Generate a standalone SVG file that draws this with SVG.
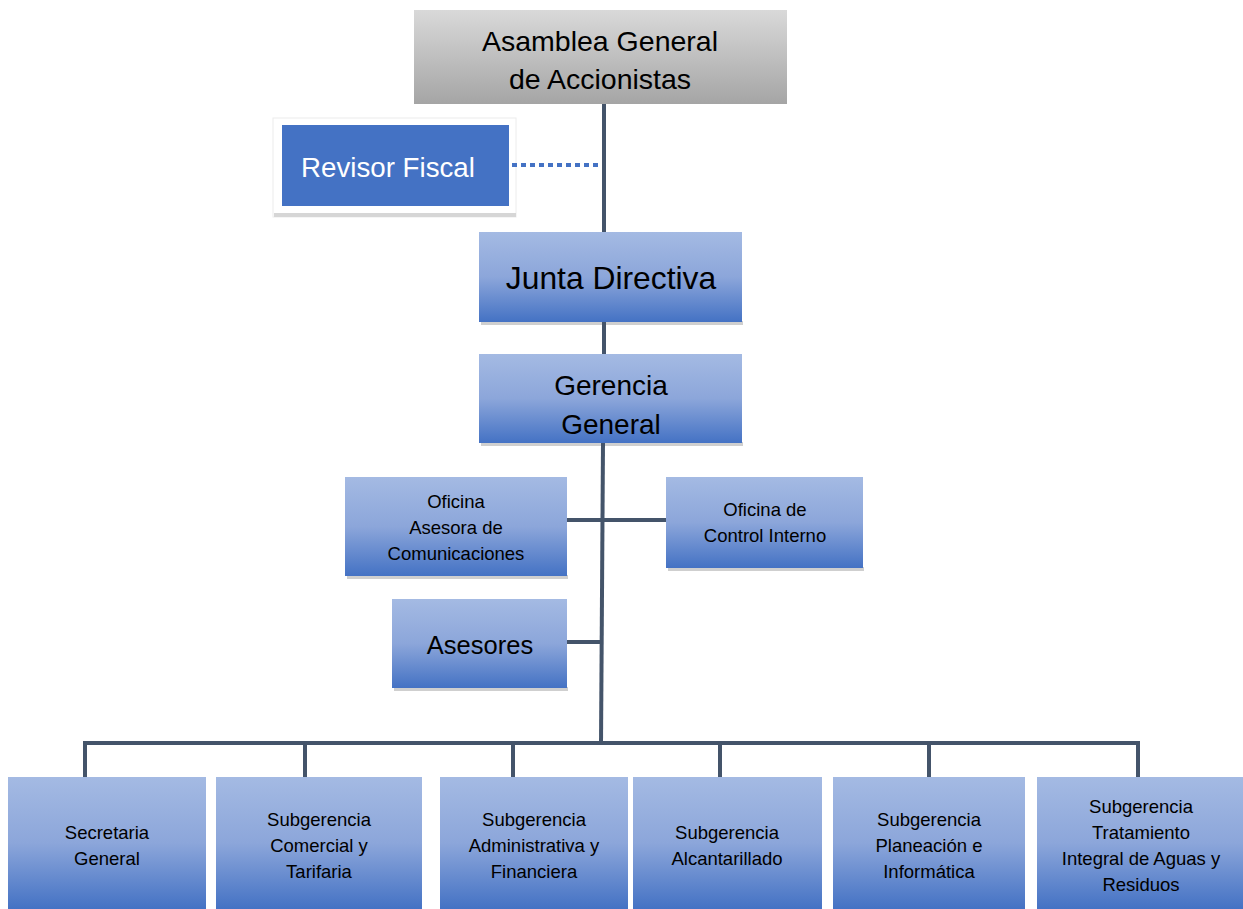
<svg xmlns="http://www.w3.org/2000/svg" width="1243" height="909" viewBox="0 0 1243 909">
<defs>
<linearGradient id="gray" x1="0" y1="0" x2="0" y2="1">
<stop offset="0" stop-color="#d9d9d9"/>
<stop offset="1" stop-color="#a5a5a5"/>
</linearGradient>
<linearGradient id="blue" x1="0" y1="0" x2="0" y2="1">
<stop offset="0" stop-color="#a4bae3"/>
<stop offset="0.5" stop-color="#8ca6da"/>
<stop offset="1" stop-color="#4472c4"/>
</linearGradient>
<style>
.box{fill:url(#blue);}
.shadow{fill:#cfcfcf;}
.conn{stroke:#44546a;stroke-width:4;fill:none;stroke-linecap:butt;}
.t{font-family:"Liberation Sans",Arial,sans-serif;fill:#000;text-anchor:middle;}
.s{font-size:18.5px;}
.l{font-size:28px;}
</style>
</defs>
<rect width="1243" height="909" fill="#ffffff"/>
<g id="asamblea">
<rect x="414" y="10" width="373" height="94" fill="url(#gray)"/>
<text class="t" x="600" y="51" font-size="28.5">Asamblea General</text>
<text class="t" x="600" y="89" font-size="28.5">de Accionistas</text>
</g>
<g id="revisor">
<rect x="273" y="118" width="243" height="99" fill="#ffffff" stroke="#ececec" stroke-width="1"/>
<rect x="274" y="213" width="242" height="4" fill="#d6d6d6"/>
<rect x="282" y="125" width="227" height="81" fill="#4472c4"/>
<text class="t" x="388" y="177" font-size="27.7" style="fill:#ffffff">Revisor Fiscal</text>
</g>
<g id="junta">
<rect class="shadow" x="481" y="321" width="262" height="4"/>
<rect class="box" x="479" y="232" width="263" height="90"/>
<text class="t" x="611" y="289" font-size="31.8">Junta Directiva</text>
</g>
<g id="gerencia">
<rect class="shadow" x="481" y="442" width="262" height="4"/>
<rect class="box" x="479" y="354" width="263" height="89"/>
<text class="t l" x="611" y="395">Gerencia</text>
<text class="t l" x="611" y="434">General</text>
</g>
<g id="comunicaciones">
<rect class="shadow" x="347" y="575" width="221" height="4"/>
<rect class="box" x="345" y="477" width="222" height="99"/>
<text class="t s" x="456" y="508">Oficina</text>
<text class="t s" x="456" y="534">Asesora de</text>
<text class="t s" x="456" y="560">Comunicaciones</text>
</g>
<g id="control">
<rect class="shadow" x="668" y="567" width="196" height="4"/>
<rect class="box" x="666" y="477" width="197" height="91"/>
<text class="t s" x="765" y="516">Oficina de</text>
<text class="t s" x="765" y="542">Control Interno</text>
</g>
<g id="asesores">
<rect class="shadow" x="394" y="687" width="174" height="4"/>
<rect class="box" x="392" y="599" width="175" height="89"/>
<text class="t" x="480" y="654" font-size="25.5">Asesores</text>
</g>
<g id="secretaria">
<rect class="box" x="8" y="777" width="198" height="132"/>
<text class="t s" x="107" y="839">Secretaria</text>
<text class="t s" x="107" y="865">General</text>
</g>
<g id="comercial">
<rect class="box" x="216" y="777" width="206" height="132"/>
<text class="t s" x="319" y="826">Subgerencia</text>
<text class="t s" x="319" y="852">Comercial y</text>
<text class="t s" x="319" y="878">Tarifaria</text>
</g>
<g id="administrativa">
<rect class="box" x="440" y="777" width="188" height="132"/>
<text class="t s" x="534" y="826">Subgerencia</text>
<text class="t s" x="534" y="852">Administrativa y</text>
<text class="t s" x="534" y="878">Financiera</text>
</g>
<g id="alcantarillado">
<rect class="box" x="633" y="777" width="189" height="132"/>
<text class="t s" x="727" y="839">Subgerencia</text>
<text class="t s" x="727" y="865">Alcantarillado</text>
</g>
<g id="planeacion">
<rect class="box" x="833" y="777" width="192" height="132"/>
<text class="t s" x="929" y="826">Subgerencia</text>
<text class="t s" x="929" y="852">Planeación e</text>
<text class="t s" x="929" y="878">Informática</text>
</g>
<g id="tratamiento">
<rect class="box" x="1037" y="777" width="206" height="132"/>
<text class="t s" x="1141" y="813">Subgerencia</text>
<text class="t s" x="1141" y="839">Tratamiento</text>
<text class="t s" x="1141" y="865">Integral de Aguas y</text>
<text class="t s" x="1141" y="891">Residuos</text>
</g>
<g id="connectors">
<line class="conn" x1="604" y1="104" x2="604" y2="232"/>
<line x1="512" y1="165" x2="600" y2="165" stroke="#4472c4" stroke-width="4" stroke-dasharray="5 4"/>
<line class="conn" x1="604" y1="322" x2="604" y2="354"/>
<line class="conn" x1="603" y1="443" x2="601" y2="745"/>
<line class="conn" x1="567" y1="520" x2="666" y2="520"/>
<line class="conn" x1="567" y1="642" x2="602" y2="642"/>
<polyline class="conn" points="85,777 85,743 1138,743 1138,777"/>
<line class="conn" x1="305" y1="743" x2="305" y2="777"/>
<line class="conn" x1="513" y1="743" x2="513" y2="777"/>
<line class="conn" x1="720" y1="743" x2="720" y2="777"/>
<line class="conn" x1="929" y1="743" x2="929" y2="777"/>
</g>
</svg>
